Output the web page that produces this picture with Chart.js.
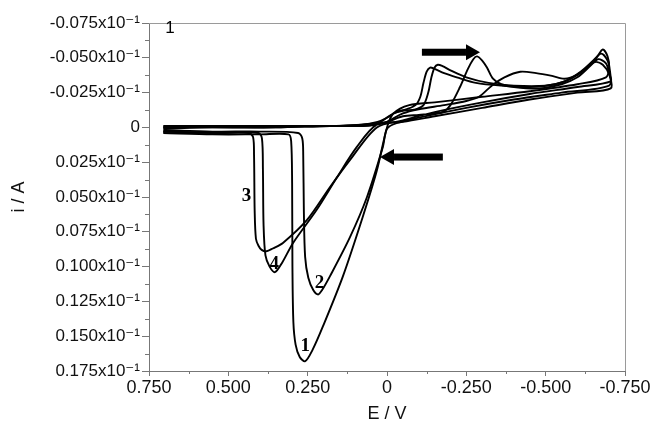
<!DOCTYPE html>
<html>
<head>
<meta charset="utf-8">
<title>Cyclic voltammogram</title>
<script src="https://cdn.jsdelivr.net/npm/chart.js@4.4.1/dist/chart.umd.min.js"></script>
<style>
    body { margin: 0; background: #fff; }
    #wrap { width: 653px; height: 423px; }
</style>
</head>
<body>
<div id="wrap"><canvas id="cvChart" width="653" height="423"></canvas></div>
<script>
// Scan curves as [E (V), i] pairs, in sweep order
const curve1 = [[0.705, 0.000], [0.60, -0.001], [0.45, -0.001], [0.30, -0.001], [0.18, -0.001], [0.08, -0.002],
    [0.03, -0.004], [0.00, -0.007], [-0.03, -0.011], [-0.06, -0.013], [-0.09, -0.016], [-0.105, -0.022],
    [-0.115, -0.032], [-0.125, -0.040], [-0.136, -0.043], [-0.15, -0.042], [-0.18, -0.039], [-0.22, -0.036],
    [-0.28, -0.032], [-0.36, -0.030], [-0.45, -0.029], [-0.53, -0.031], [-0.58, -0.035], [-0.62, -0.041],
    [-0.66, -0.050], [-0.68, -0.056], [-0.695, -0.051], [-0.70, -0.043], [-0.69, -0.036], [-0.60, -0.031],
    [-0.45, -0.026], [-0.30, -0.022], [-0.15, -0.018], [-0.07, -0.016], [-0.02, -0.010], [0.00, 0.000],
    [0.032, 0.031], [0.076, 0.064], [0.139, 0.107], [0.202, 0.143], [0.235, 0.160], [0.258, 0.168],
    [0.275, 0.165], [0.288, 0.156], [0.295, 0.140], [0.298, 0.100], [0.299, 0.040], [0.302, 0.010],
    [0.31, 0.005], [0.40, 0.005], [0.55, 0.005], [0.705, 0.004]];

const curve2 = [[0.705, 0.001], [0.55, 0.000], [0.35, 0.000], [0.18, -0.001], [0.08, -0.001], [0.04, -0.002],
    [0.02, -0.004], [-0.02, -0.010], [-0.05, -0.012], [-0.09, -0.013], [-0.115, -0.016], [-0.13, -0.025],
    [-0.14, -0.036], [-0.15, -0.043], [-0.16, -0.045], [-0.175, -0.044], [-0.20, -0.041], [-0.25, -0.036],
    [-0.32, -0.032], [-0.40, -0.030], [-0.50, -0.030], [-0.56, -0.033], [-0.61, -0.040], [-0.65, -0.048],
    [-0.675, -0.053], [-0.695, -0.048], [-0.703, -0.040], [-0.70, -0.030], [-0.55, -0.025], [-0.40, -0.020],
    [-0.25, -0.014], [-0.10, -0.007], [-0.03, -0.003], [0.00, 0.001], [0.013, 0.014], [0.063, 0.050],
    [0.117, 0.079], [0.180, 0.107], [0.205, 0.117], [0.217, 0.120], [0.232, 0.117], [0.248, 0.108],
    [0.258, 0.093], [0.262, 0.060], [0.264, 0.020], [0.267, 0.008], [0.28, 0.004], [0.40, 0.003],
    [0.55, 0.003], [0.705, 0.002]];

const curve3 = [[0.705, -0.001], [0.55, -0.001], [0.35, -0.001], [0.18, -0.001], [0.08, -0.002], [0.03, -0.003],
    [0.00, -0.004], [-0.05, -0.008], [-0.10, -0.009], [-0.15, -0.010], [-0.177, -0.011], [-0.20, -0.016],
    [-0.23, -0.029], [-0.255, -0.042], [-0.272, -0.049], [-0.284, -0.051], [-0.30, -0.048], [-0.315, -0.043],
    [-0.334, -0.035], [-0.36, -0.031], [-0.40, -0.029], [-0.48, -0.028], [-0.55, -0.031], [-0.60, -0.036],
    [-0.64, -0.044], [-0.665, -0.049], [-0.69, -0.046], [-0.70, -0.039], [-0.705, -0.033], [-0.60, -0.029],
    [-0.45, -0.024], [-0.30, -0.018], [-0.15, -0.011], [-0.05, -0.005], [0.032, 0.000], [0.117, 0.0235],
    [0.180, 0.043], [0.252, 0.0665], [0.328, 0.083], [0.36, 0.087], [0.38, 0.089], [0.395, 0.088],
    [0.405, 0.085], [0.413, 0.080], [0.417, 0.060], [0.419, 0.020], [0.422, 0.007], [0.435, 0.004],
    [0.55, 0.004], [0.705, 0.003]];

const curve4 = [[0.705, 0.000], [0.55, 0.000], [0.35, 0.000], [0.18, -0.001], [0.08, -0.001], [0.03, -0.002],
    [0.00, -0.004], [-0.05, -0.010], [-0.10, -0.013], [-0.18, -0.016], [-0.25, -0.019], [-0.29, -0.022],
    [-0.33, -0.030], [-0.37, -0.036], [-0.42, -0.040], [-0.47, -0.039], [-0.52, -0.037], [-0.56, -0.035],
    [-0.60, -0.038], [-0.63, -0.043], [-0.655, -0.047], [-0.68, -0.045], [-0.70, -0.038], [-0.705, -0.028],
    [-0.60, -0.025], [-0.45, -0.020], [-0.30, -0.014], [-0.15, -0.008], [-0.05, -0.004], [0.032, -0.002],
    [0.095, 0.014], [0.158, 0.036], [0.221, 0.059], [0.296, 0.083], [0.33, 0.097], [0.353, 0.104],
    [0.37, 0.100], [0.383, 0.092], [0.389, 0.070], [0.391, 0.030], [0.394, 0.008], [0.405, 0.004],
    [0.55, 0.004], [0.705, 0.003]];

// Tick values
const xTicks = [0.75, 0.5, 0.25, 0, -0.25, -0.5, -0.75];
const yTicks = [-0.075, -0.05, -0.025, 0, 0.025, 0.05, 0.075, 0.1, 0.125, 0.15, 0.175];

// Curve numbers and sweep arrows, in data coordinates
const curveLabels = [['1', 0.258, 0.157], ['2', 0.213, 0.112], ['3', 0.443, 0.049], ['4', 0.355, 0.098]];
const arrows = [[-0.110, -0.293, -0.054], [-0.176, 0.022, 0.0213]];

const SANS = "'Liberation Sans', Arial, 'DejaVu Sans', sans-serif";

function formatX(v) {
    return Math.abs(v) < 1e-9 ? '0' : v.toFixed(3);
}

function formatY(v) {
    return Math.abs(v) < 1e-9 ? '0' : v.toFixed(3) + 'x10\u207B\u00B9';
}

function toPoints(curve) {
    return curve.map(p => ({ x: p[0], y: p[1] }));
}

// Midpoints between major ticks
function minorOf(ticks) {
    const out = [];
    for (let k = 0; k < ticks.length - 1; k++) out.push((ticks[k] + ticks[k + 1]) / 2);
    return out;
}

const decorations = {
    id: 'decorations',
    afterDraw(chart) {
        const { ctx, chartArea: a, scales: { x, y } } = chart;
        ctx.save();

        // frame top and right
        ctx.strokeStyle = '#9a9a9a';
        ctx.lineWidth = 1;
        ctx.beginPath();
        ctx.moveTo(a.left, a.top + 0.5);
        ctx.lineTo(a.right + 0.5, a.top + 0.5);
        ctx.lineTo(a.right + 0.5, a.bottom);
        ctx.stroke();

        // minor ticks
        ctx.strokeStyle = '#777';
        ctx.beginPath();
        minorOf(yTicks).forEach(v => {
            const py = Math.round(y.getPixelForValue(v)) + 0.5;
            ctx.moveTo(a.left - 4, py);
            ctx.lineTo(a.left, py);
        });
        minorOf(xTicks).forEach(v => {
            const px = Math.round(x.getPixelForValue(v)) + 0.5;
            ctx.moveTo(px, a.bottom);
            ctx.lineTo(px, a.bottom + 3);
        });
        ctx.stroke();

        // arrows
        ctx.fillStyle = '#000';
        arrows.forEach(([e0, e1, iv]) => {
            const x0 = x.getPixelForValue(e0);
            const x1 = x.getPixelForValue(e1);
            const py = y.getPixelForValue(iv);
            const dir = Math.sign(x1 - x0);
            const head = 14;
            ctx.fillRect(Math.min(x0, x1 - dir * head), py - 3.5, Math.abs(x1 - dir * head - x0), 7);
            ctx.beginPath();
            ctx.moveTo(x1, py);
            ctx.lineTo(x1 - dir * head, py - 8);
            ctx.lineTo(x1 - dir * head, py + 8);
            ctx.closePath();
            ctx.fill();
        });

        // curve numbers
        ctx.font = "bold 19px 'Liberation Serif', 'Times New Roman', serif";
        ctx.textAlign = 'center';
        ctx.textBaseline = 'middle';
        curveLabels.forEach(([t, e, iv]) => {
            ctx.fillText(t, x.getPixelForValue(e), y.getPixelForValue(iv));
        });

        // panel number
        ctx.font = '17px ' + SANS;
        ctx.fillText('1', x.getPixelForValue(0.684), y.getPixelForValue(-0.071));
        ctx.restore();
    }
};

function createChart() {
    const datasets = [curve1, curve2, curve3, curve4].map((c, k) => ({
        label: 'Scan ' + (k + 1),
        data: toPoints(c),
        showLine: true,
        borderColor: '#000',
        borderWidth: 1.9,
        pointRadius: 0,
        tension: 0.3,
        fill: false
    }));

    const ctx = document.getElementById('cvChart').getContext('2d');
    new Chart(ctx, {
        type: 'scatter',
        data: { datasets: datasets },
        options: {
            responsive: false,
            animation: false,
            devicePixelRatio: 1,
            layout: { padding: { top: 23, right: 28, left: 0, bottom: 0 } },
            plugins: {
                legend: { display: false },
                tooltip: { enabled: false }
            },
            scales: {
                x: {
                    type: 'linear',
                    reverse: true,
                    min: -0.75,
                    max: 0.75,
                    afterBuildTicks: s => { s.ticks = xTicks.map(v => ({ value: v })); },
                    afterFit: s => { s.height = 52; },
                    ticks: {
                        callback: formatX,
                        font: { family: SANS, size: 18 },
                        color: '#111',
                        padding: 1,
                        maxRotation: 0
                    },
                    grid: { drawOnChartArea: false, tickLength: 5, color: '#777' },
                    border: { color: '#777' },
                    title: {
                        display: true,
                        text: 'E / V',
                        font: { family: SANS, size: 18 },
                        color: '#111',
                        padding: { top: 0, bottom: -2 }
                    }
                },
                y: {
                    type: 'linear',
                    reverse: true,
                    min: -0.075,
                    max: 0.175,
                    afterBuildTicks: s => { s.ticks = yTicks.map(v => ({ value: v })); },
                    afterFit: s => { s.width = 149; },
                    ticks: {
                        callback: formatY,
                        font: { family: SANS, size: 17 },
                        color: '#111',
                        padding: 2
                    },
                    grid: { drawOnChartArea: false, tickLength: 7, color: '#777' },
                    border: { color: '#777' },
                    title: {
                        display: true,
                        text: 'i / A',
                        font: { family: SANS, size: 18 },
                        color: '#111',
                        padding: { top: 8, bottom: 0 }
                    }
                }
            }
        },
        plugins: [decorations]
    });
}

createChart();
</script>
</body>
</html>
